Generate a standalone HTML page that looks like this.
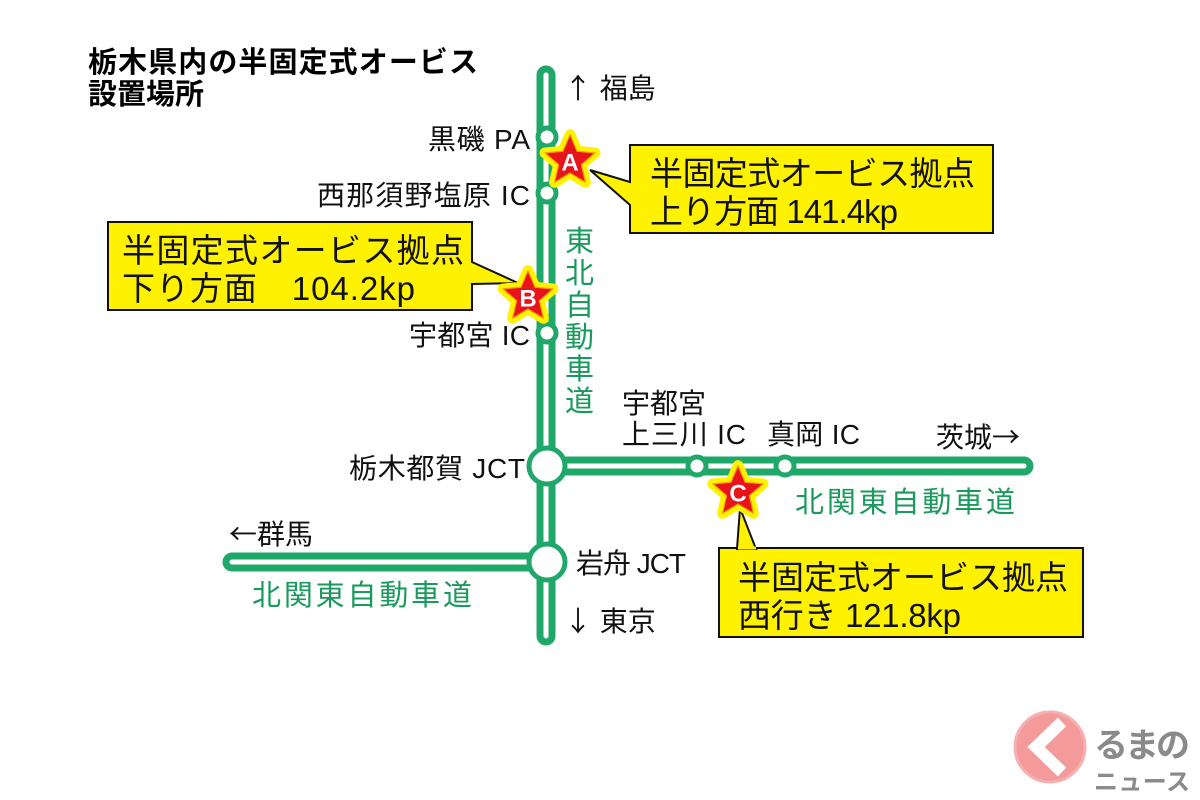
<!DOCTYPE html>
<html><head><meta charset="utf-8"><style>
body{margin:0;background:#fff}
svg{display:block}
text{font-family:"Liberation Sans","Noto Sans CJK JP",sans-serif}
.ar{font-family:"Noto Sans CJK JP",sans-serif}
</style></head><body>
<svg width="1200" height="800" viewBox="0 0 1200 800" xmlns="http://www.w3.org/2000/svg">
<defs>
<path id="st" d="M0,-22 L5.9,-8.1 L20.9,-6.8 L9.5,3.1 L12.9,17.8 L0,10 L-12.9,17.8 L-9.5,3.1 L-20.9,-6.8 L-5.9,-8.1 Z"/>
</defs>
<text x="88" y="72" font-size="29" font-weight="bold" textLength="390">栃木県内の半固定式オービス</text>
<text x="88" y="104" font-size="29" font-weight="bold">設置場所</text>
<g stroke-linecap="round" fill="none">
<path d="M546,75 V636 M546,466 H1024 M232,562 H546" stroke="#1fa86a" stroke-width="19"/>
<path d="M546,75 V636 M546,466 H1024 M232,562 H546" stroke="#fff" stroke-width="5"/>
</g>
<g fill="#fff" stroke="#1fa86a" stroke-width="5">
<circle cx="547" cy="137" r="9"/><circle cx="547" cy="193" r="9"/><circle cx="547" cy="333" r="9"/>
<circle cx="547" cy="466" r="18"/><circle cx="547" cy="562" r="18"/>
<circle cx="697" cy="466" r="9"/><circle cx="785" cy="466" r="9"/>
</g>
<g font-size="28" fill="#111">
<text x="564" y="98"><tspan class="ar">↑</tspan> 福島</text>
<text x="428" y="149" textLength="102">黒磯 PA</text>
<text x="317" y="205" textLength="213">西那須野塩原 IC</text>
<text x="409" y="345" textLength="121">宇都宮 IC</text>
<text x="349" y="478" textLength="176">栃木都賀 JCT</text>
<text x="622" y="413">宇都宮</text>
<text x="622" y="444" textLength="124">上三川 IC</text>
<text x="767" y="444" textLength="93">真岡 IC</text>
<text x="936" y="447">茨城<tspan class="ar">→</tspan></text>
<text x="576" y="573" textLength="110">岩舟 JCT</text>
<text x="229" y="544"><tspan class="ar">←</tspan>群馬</text>
<text x="564" y="631"><tspan class="ar">↓</tspan> 東京</text>
</g>
<g font-size="29" fill="#1a9a5c">
<text x="565" y="251">東</text><text x="565" y="283">北</text><text x="565" y="315">自</text><text x="565" y="347">動</text><text x="565" y="379">車</text><text x="565" y="411">道</text>
<text x="795" y="512" textLength="220">北関東自動車道</text>
<text x="252" y="605" textLength="220">北関東自動車道</text>
</g>
<g fill="#fff200" stroke="#111" stroke-width="2">
<path d="M630,145 H993 V233 H630 V205 L590,170 L630,182 Z"/>
<path d="M108,222 H472 V262 L518,283 L472,284 V310 H108 Z"/>
<path d="M719,548 H1083 V637 H719 Z"/>
<path d="M737,549 L740,508 L756,549 Z" stroke-linejoin="miter"/>
<path d="M738,548 L756,548" stroke="#fff200" stroke-width="3"/>
</g>
<g font-size="33" fill="#111">
<text x="650" y="185" textLength="325">半固定式オービス拠点</text>
<text x="650" y="223" textLength="248">上り方面 141.4kp</text>
<text x="122" y="262" textLength="342">半固定式オービス拠点</text>
<text x="122" y="300" textLength="293">下り方面　104.2kp</text>
<text x="738" y="589" textLength="330">半固定式オービス拠点</text>
<text x="738" y="627" textLength="223">西行き 121.8kp</text>
</g>
<g stroke-linejoin="round">
<g transform="translate(570,161) scale(1.2)"><use href="#st" fill="#fff200" stroke="#fff200" stroke-width="9"/><use href="#st" fill="#e8141c" stroke="#ff9a00" stroke-width="1"/><text y="8" text-anchor="middle" font-size="20" font-weight="bold" fill="#fff">A</text></g>
<g transform="translate(528,297) scale(1.2)"><use href="#st" fill="#fff200" stroke="#fff200" stroke-width="9"/><use href="#st" fill="#e8141c" stroke="#ff9a00" stroke-width="1"/><text y="8" text-anchor="middle" font-size="20" font-weight="bold" fill="#fff">B</text></g>
<g transform="translate(738,492) scale(1.2)"><use href="#st" fill="#fff200" stroke="#fff200" stroke-width="9"/><use href="#st" fill="#e8141c" stroke="#ff9a00" stroke-width="1"/><text y="8" text-anchor="middle" font-size="20" font-weight="bold" fill="#fff">C</text></g>
</g>
<circle cx="1050" cy="747" r="35" fill="#f49a9a" stroke="#f6b0b0" stroke-width="3"/>
<path d="M1062,722 L1036,747 L1062,772" fill="none" stroke="#fff" stroke-width="12"/>
<text x="1094" y="757" font-size="34" font-weight="bold" fill="#8a8a8a" textLength="96">るまの</text>
<text x="1094" y="790" font-size="24" font-weight="bold" fill="#8a8a8a" textLength="96">ニュース</text>
</svg>
</body></html>
